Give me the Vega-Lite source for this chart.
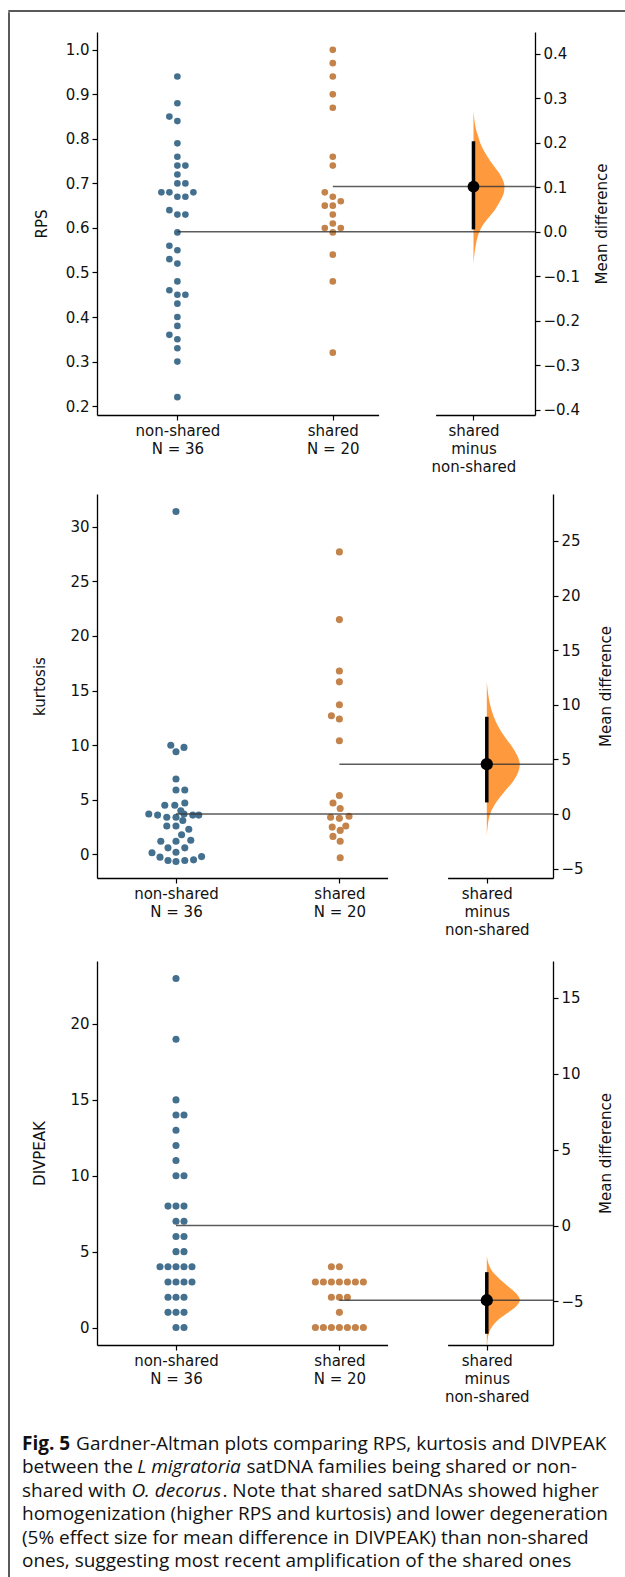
{
  "$schema": "https://vega.github.io/schema/vega-lite/v6.json",
  "padding": {"left": 8, "top": 10, "right": 0, "bottom": 0},
  "background": "white",
  "config": {
    "view": {"stroke": null},
    "font": "DejaVu Sans",
    "axis": {
      "labelFont": "DejaVu Sans", "labelFontSize": 15, "labelColor": "#111",
      "titleFont": "DejaVu Sans", "titleFontSize": 15, "titleFontWeight": "normal", "titleColor": "#111",
      "domainColor": "#000", "domainWidth": 1.3, "tickColor": "#000", "tickWidth": 1.2, "tickSize": 5,
      "grid": false, "labelPadding": 3, "labelOverlap": false, "labelFlush": false
    }
  },
  "datasets": {
    "rps": [
      {"group": "non-shared", "value": 0.94, "slot": 0},
      {"group": "non-shared", "value": 0.88, "slot": 0},
      {"group": "non-shared", "value": 0.85, "slot": -1},
      {"group": "non-shared", "value": 0.84, "slot": 0},
      {"group": "non-shared", "value": 0.79, "slot": 0},
      {"group": "non-shared", "value": 0.76, "slot": 0},
      {"group": "non-shared", "value": 0.74, "slot": 0},
      {"group": "non-shared", "value": 0.74, "slot": 1},
      {"group": "non-shared", "value": 0.72, "slot": 0},
      {"group": "non-shared", "value": 0.70, "slot": 0},
      {"group": "non-shared", "value": 0.70, "slot": 1},
      {"group": "non-shared", "value": 0.68, "slot": -2},
      {"group": "non-shared", "value": 0.68, "slot": -1},
      {"group": "non-shared", "value": 0.68, "slot": 2},
      {"group": "non-shared", "value": 0.67, "slot": 0},
      {"group": "non-shared", "value": 0.67, "slot": 1},
      {"group": "non-shared", "value": 0.64, "slot": -1},
      {"group": "non-shared", "value": 0.63, "slot": 0},
      {"group": "non-shared", "value": 0.63, "slot": 1},
      {"group": "non-shared", "value": 0.59, "slot": 0},
      {"group": "non-shared", "value": 0.56, "slot": -1},
      {"group": "non-shared", "value": 0.55, "slot": 0},
      {"group": "non-shared", "value": 0.53, "slot": -1},
      {"group": "non-shared", "value": 0.52, "slot": 0},
      {"group": "non-shared", "value": 0.48, "slot": 0},
      {"group": "non-shared", "value": 0.46, "slot": -1},
      {"group": "non-shared", "value": 0.45, "slot": 0},
      {"group": "non-shared", "value": 0.45, "slot": 1},
      {"group": "non-shared", "value": 0.43, "slot": 0},
      {"group": "non-shared", "value": 0.40, "slot": 0},
      {"group": "non-shared", "value": 0.38, "slot": 0},
      {"group": "non-shared", "value": 0.36, "slot": -1},
      {"group": "non-shared", "value": 0.35, "slot": 0},
      {"group": "non-shared", "value": 0.33, "slot": 0},
      {"group": "non-shared", "value": 0.30, "slot": 0},
      {"group": "non-shared", "value": 0.22, "slot": 0},
      {"group": "shared", "value": 1.00, "slot": 0},
      {"group": "shared", "value": 0.97, "slot": 0},
      {"group": "shared", "value": 0.94, "slot": 0},
      {"group": "shared", "value": 0.90, "slot": 0},
      {"group": "shared", "value": 0.87, "slot": 0},
      {"group": "shared", "value": 0.76, "slot": 0},
      {"group": "shared", "value": 0.74, "slot": 0},
      {"group": "shared", "value": 0.68, "slot": -1},
      {"group": "shared", "value": 0.67, "slot": 0},
      {"group": "shared", "value": 0.66, "slot": 1},
      {"group": "shared", "value": 0.65, "slot": -1},
      {"group": "shared", "value": 0.65, "slot": 0},
      {"group": "shared", "value": 0.63, "slot": 0},
      {"group": "shared", "value": 0.61, "slot": 0},
      {"group": "shared", "value": 0.60, "slot": -1},
      {"group": "shared", "value": 0.60, "slot": 1},
      {"group": "shared", "value": 0.59, "slot": 0},
      {"group": "shared", "value": 0.54, "slot": 0},
      {"group": "shared", "value": 0.48, "slot": 0},
      {"group": "shared", "value": 0.32, "slot": 0}
    ],
    "rps_means": [{"group": "non-shared", "mean": 0.5917}, {"group": "shared", "mean": 0.693}],
    "rps_diff": [{"group": "diff", "mean": 0.101, "lo": 0.005, "hi": 0.203}],
    "rps_violin": [
      {"v": 0.272, "d": 0}, {"v": 0.25, "d": 0.03}, {"v": 0.23, "d": 0.08}, {"v": 0.21, "d": 0.17},
      {"v": 0.197, "d": 0.23}, {"v": 0.18, "d": 0.35}, {"v": 0.16, "d": 0.53}, {"v": 0.152, "d": 0.61},
      {"v": 0.13, "d": 0.84}, {"v": 0.11, "d": 0.98}, {"v": 0.10, "d": 1.0}, {"v": 0.085, "d": 0.97},
      {"v": 0.07, "d": 0.87}, {"v": 0.047, "d": 0.67}, {"v": 0.03, "d": 0.47}, {"v": 0.011, "d": 0.27},
      {"v": -0.01, "d": 0.14}, {"v": -0.028, "d": 0.08}, {"v": -0.05, "d": 0.03}, {"v": -0.073, "d": 0}
    ],
    "kurt": [
      {"group": "non-shared", "value": 31.4, "slot": 0},
      {"group": "non-shared", "value": 10.0, "slot": -0.65},
      {"group": "non-shared", "value": 9.8, "slot": 1},
      {"group": "non-shared", "value": 9.4, "slot": 0},
      {"group": "non-shared", "value": 6.9, "slot": 0},
      {"group": "non-shared", "value": 5.9, "slot": 0},
      {"group": "non-shared", "value": 5.9, "slot": 1.1},
      {"group": "non-shared", "value": 4.7, "slot": 1.1},
      {"group": "non-shared", "value": 4.5, "slot": -1.4},
      {"group": "non-shared", "value": 4.5, "slot": -0.15},
      {"group": "non-shared", "value": 4.0, "slot": 0.6},
      {"group": "non-shared", "value": 3.7, "slot": -3.4},
      {"group": "non-shared", "value": 3.6, "slot": -2.3},
      {"group": "non-shared", "value": 3.4, "slot": -1.15},
      {"group": "non-shared", "value": 3.4, "slot": 0},
      {"group": "non-shared", "value": 3.7, "slot": 1},
      {"group": "non-shared", "value": 3.6, "slot": 2.1},
      {"group": "non-shared", "value": 3.6, "slot": 2.85},
      {"group": "non-shared", "value": 3.1, "slot": 0.85},
      {"group": "non-shared", "value": 2.6, "slot": -1.15},
      {"group": "non-shared", "value": 2.6, "slot": 0},
      {"group": "non-shared", "value": 2.3, "slot": 1.6},
      {"group": "non-shared", "value": 1.8, "slot": 0.7},
      {"group": "non-shared", "value": 1.2, "slot": -1.9},
      {"group": "non-shared", "value": 1.2, "slot": 0},
      {"group": "non-shared", "value": 1.3, "slot": 1.85},
      {"group": "non-shared", "value": 0.6, "slot": -1},
      {"group": "non-shared", "value": 0.6, "slot": 1.1},
      {"group": "non-shared", "value": 0.15, "slot": -3},
      {"group": "non-shared", "value": 0.2, "slot": 0},
      {"group": "non-shared", "value": -0.25, "slot": -2},
      {"group": "non-shared", "value": -0.55, "slot": -1},
      {"group": "non-shared", "value": -0.65, "slot": 0},
      {"group": "non-shared", "value": -0.55, "slot": 1.1},
      {"group": "non-shared", "value": -0.5, "slot": 2.2},
      {"group": "non-shared", "value": -0.2, "slot": 3.2},
      {"group": "shared", "value": 27.7, "slot": 0},
      {"group": "shared", "value": 21.5, "slot": 0},
      {"group": "shared", "value": 16.8, "slot": 0},
      {"group": "shared", "value": 15.8, "slot": 0},
      {"group": "shared", "value": 13.7, "slot": 0},
      {"group": "shared", "value": 12.7, "slot": -1},
      {"group": "shared", "value": 12.4, "slot": 0},
      {"group": "shared", "value": 10.4, "slot": 0},
      {"group": "shared", "value": 5.4, "slot": 0},
      {"group": "shared", "value": 4.7, "slot": -0.8},
      {"group": "shared", "value": 4.2, "slot": 0.1},
      {"group": "shared", "value": 3.4, "slot": -1.1},
      {"group": "shared", "value": 3.3, "slot": 0},
      {"group": "shared", "value": 3.5, "slot": 1.2},
      {"group": "shared", "value": 2.5, "slot": -0.9},
      {"group": "shared", "value": 2.6, "slot": 0.8},
      {"group": "shared", "value": 2.2, "slot": 0.1},
      {"group": "shared", "value": 1.65, "slot": -0.8},
      {"group": "shared", "value": 1.2, "slot": 0.1},
      {"group": "shared", "value": -0.3, "slot": 0.1}
    ],
    "kurt_means": [{"group": "non-shared", "mean": 3.7}, {"group": "shared", "mean": 8.26}],
    "kurt_diff": [{"group": "diff", "mean": 4.56, "lo": 1.06, "hi": 8.9}],
    "kurt_violin": [
      {"v": 12.1, "d": 0}, {"v": 11, "d": 0.04}, {"v": 10, "d": 0.1}, {"v": 9, "d": 0.2},
      {"v": 8, "d": 0.35}, {"v": 7, "d": 0.56}, {"v": 6, "d": 0.8}, {"v": 5, "d": 0.97},
      {"v": 4.55, "d": 1.0}, {"v": 4, "d": 0.97}, {"v": 3, "d": 0.8}, {"v": 2, "d": 0.52},
      {"v": 1, "d": 0.27}, {"v": 0, "d": 0.1}, {"v": -1, "d": 0.03}, {"v": -2, "d": 0}
    ],
    "div": [
      {"group": "non-shared", "value": 23, "slot": 0},
      {"group": "non-shared", "value": 19, "slot": 0},
      {"group": "non-shared", "value": 15, "slot": 0},
      {"group": "non-shared", "value": 14, "slot": 0},
      {"group": "non-shared", "value": 14, "slot": 1},
      {"group": "non-shared", "value": 13, "slot": 0},
      {"group": "non-shared", "value": 12, "slot": 0},
      {"group": "non-shared", "value": 11, "slot": 0},
      {"group": "non-shared", "value": 10, "slot": 0},
      {"group": "non-shared", "value": 10, "slot": 1},
      {"group": "non-shared", "value": 8, "slot": -1},
      {"group": "non-shared", "value": 8, "slot": 0},
      {"group": "non-shared", "value": 8, "slot": 1},
      {"group": "non-shared", "value": 7, "slot": 0},
      {"group": "non-shared", "value": 7, "slot": 1},
      {"group": "non-shared", "value": 6, "slot": 0},
      {"group": "non-shared", "value": 6, "slot": 1},
      {"group": "non-shared", "value": 5, "slot": 0},
      {"group": "non-shared", "value": 5, "slot": 1},
      {"group": "non-shared", "value": 4, "slot": -2},
      {"group": "non-shared", "value": 4, "slot": -1},
      {"group": "non-shared", "value": 4, "slot": 0},
      {"group": "non-shared", "value": 4, "slot": 1},
      {"group": "non-shared", "value": 4, "slot": 2},
      {"group": "non-shared", "value": 3, "slot": -1},
      {"group": "non-shared", "value": 3, "slot": 0},
      {"group": "non-shared", "value": 3, "slot": 1},
      {"group": "non-shared", "value": 3, "slot": 2},
      {"group": "non-shared", "value": 2, "slot": -1},
      {"group": "non-shared", "value": 2, "slot": 0},
      {"group": "non-shared", "value": 2, "slot": 1},
      {"group": "non-shared", "value": 1, "slot": -1},
      {"group": "non-shared", "value": 1, "slot": 0},
      {"group": "non-shared", "value": 1, "slot": 1},
      {"group": "non-shared", "value": 0, "slot": 0},
      {"group": "non-shared", "value": 0, "slot": 1},
      {"group": "shared", "value": 4, "slot": -1},
      {"group": "shared", "value": 4, "slot": 0},
      {"group": "shared", "value": 3, "slot": -3},
      {"group": "shared", "value": 3, "slot": -2},
      {"group": "shared", "value": 3, "slot": -1},
      {"group": "shared", "value": 3, "slot": 0},
      {"group": "shared", "value": 3, "slot": 1},
      {"group": "shared", "value": 3, "slot": 2},
      {"group": "shared", "value": 3, "slot": 3},
      {"group": "shared", "value": 2, "slot": -1},
      {"group": "shared", "value": 2, "slot": 0},
      {"group": "shared", "value": 2, "slot": 1},
      {"group": "shared", "value": 1, "slot": 0},
      {"group": "shared", "value": 0, "slot": -3},
      {"group": "shared", "value": 0, "slot": -2},
      {"group": "shared", "value": 0, "slot": -1},
      {"group": "shared", "value": 0, "slot": 0},
      {"group": "shared", "value": 0, "slot": 1},
      {"group": "shared", "value": 0, "slot": 2},
      {"group": "shared", "value": 0, "slot": 3}
    ],
    "div_means": [{"group": "non-shared", "mean": 6.72}, {"group": "shared", "mean": 1.8}],
    "div_diff": [{"group": "diff", "mean": -4.92, "lo": -7.13, "hi": -3.07}],
    "div_violin": [
      {"v": -2.0, "d": 0}, {"v": -2.5, "d": 0.05}, {"v": -3.0, "d": 0.16}, {"v": -3.5, "d": 0.38},
      {"v": -4.0, "d": 0.64}, {"v": -4.5, "d": 0.9}, {"v": -4.9, "d": 1.0}, {"v": -5.3, "d": 0.9},
      {"v": -5.8, "d": 0.6}, {"v": -6.3, "d": 0.3}, {"v": -6.8, "d": 0.12}, {"v": -7.3, "d": 0.04},
      {"v": -7.9, "d": 0.01}
    ],
    "caption": [
      {"line": 1, "run": "b1", "text": "Fig. 5"},
      {"line": 1, "run": "r1", "text": "Gardner-Altman plots comparing RPS, kurtosis and DIVPEAK"},
      {"line": 2, "run": "p0", "text": "between the"},
      {"line": 2, "run": "i2", "text": "L migratoria"},
      {"line": 2, "run": "r2", "text": "satDNA families being shared or non-"},
      {"line": 3, "run": "p0", "text": "shared with"},
      {"line": 3, "run": "i3", "text": "O. decorus"},
      {"line": 3, "run": "r3", "text": ". Note that shared satDNAs showed higher"},
      {"line": 4, "run": "p0", "text": "homogenization (higher RPS and kurtosis) and lower degeneration"},
      {"line": 5, "run": "p0", "text": "(5% effect size for mean difference in DIVPEAK) than non-shared"},
      {"line": 6, "run": "p0", "text": "ones, suggesting most recent amplification of the shared ones"}
    ],
    "empty": []
  },
  "spacing": 0,
  "vconcat": [
    {"data": {"name": "empty"}, "mark": "point", "width": 617, "height": 0.001, "view": {"stroke": "#222", "strokeWidth": 1.5}},
    {
      "spacing": 12,
      "hconcat": [
        {"data": {"name": "empty"}, "mark": "point", "width": 0.001, "height": 1567, "view": {"stroke": "#222", "strokeWidth": 1.5}},
        {
          "spacing": 0,
          "bounds": "flush",
          "vconcat": [
            {"data": {"name": "empty"}, "mark": "point", "width": 1, "height": 18.3},
            {
              "width": 438, "height": 383,
              "layer": [
                {
                  "data": {"name": "rps_violin"},
                  "mark": {"type": "area", "orient": "horizontal", "color": "#FF993E", "interpolate": "monotone", "clip": true},
                  "encoding": {
                    "y": {"field": "v", "type": "quantitative", "scale": {"domain": [-0.4117, 0.4483], "nice": false, "zero": false}, "axis": null},
                    "x": {"field": "d", "type": "quantitative", "scale": {"domain": [-12.145, 1.984], "nice": false, "zero": false}, "axis": null},
                    "x2": {"datum": 0}
                  }
                },
                {
                  "layer": [
                    {
                      "data": {"name": "rps"},
                      "mark": {"type": "point", "filled": true, "size": 44, "opacity": 1},
                      "encoding": {
                        "x": {"field": "group", "type": "nominal",
                          "scale": {"type": "point", "domain": ["non-shared", "shared"], "range": [0, 281.6], "padding": 0.406, "align": 0.637},
                          "axis": {"orient": "bottom", "title": null, "labelAngle": 0, "labelBaseline": "top", "labelLineHeight": 18, "labelPadding": 3,
                            "labelExpr": "datum.value == 'non-shared' ? ['non-shared', 'N = 36'] : ['shared', 'N = 20']"}},
                        "xOffset": {"field": "slot", "type": "quantitative", "scale": {"domain": [-4, 4], "range": [-32, 32]}},
                        "y": {"field": "value", "type": "quantitative", "scale": {"domain": [0.18, 1.04], "nice": false, "zero": false},
                          "axis": {"orient": "left", "title": "RPS", "values": [0.2, 0.3, 0.4, 0.5, 0.6, 0.7, 0.8, 0.9, 1.0], "format": ".1f", "titlePadding": 16}},
                        "color": {"field": "group", "type": "nominal", "scale": {"domain": ["non-shared", "shared"], "range": ["#44708F", "#C3834A"]}, "legend": null}
                      }
                    },
                    {
                      "data": {"name": "rps_means"},
                      "mark": {"type": "rule", "color": "#333", "opacity": 0.8, "strokeWidth": 1.5},
                      "encoding": {
                        "x": {"field": "group", "type": "nominal"},
                        "x2": {"value": "width"},
                        "y": {"field": "mean", "type": "quantitative"}
                      }
                    }
                  ]
                },
                {
                  "data": {"name": "rps_diff"},
                  "layer": [
                    {
                      "mark": {"type": "rule", "color": "#000", "strokeWidth": 3.5},
                      "encoding": {
                        "x": {"field": "group", "type": "nominal",
                          "scale": {"type": "point", "domain": ["diff"], "range": [338.6, 438], "padding": 0.5, "align": 0.381},
                          "axis": {"orient": "bottom", "title": null, "labelAngle": 0, "labelBaseline": "top", "labelLineHeight": 18, "labelPadding": 3,
                            "labelExpr": "['shared', 'minus', 'non-shared']"}},
                        "y": {"field": "lo", "type": "quantitative", "scale": {"domain": [-0.4117, 0.4483], "nice": false, "zero": false},
                          "axis": {"orient": "right", "title": "Mean difference", "values": [-0.4, -0.3, -0.2, -0.1, 0, 0.1, 0.2, 0.3, 0.4], "format": ".1f", "titleAngle": 270, "titleBaseline": "top", "titlePadding": 15}},
                        "y2": {"field": "hi"}
                      }
                    },
                    {
                      "mark": {"type": "point", "filled": true, "size": 140, "color": "#000", "opacity": 1},
                      "encoding": {
                        "x": {"field": "group", "type": "nominal"},
                        "y": {"field": "mean", "type": "quantitative"}
                      }
                    }
                  ]
                }
              ],
              "resolve": {"scale": {"x": "independent", "y": "independent"}, "axis": {"x": "independent", "y": "independent"}}
            },
            {"data": {"name": "empty"}, "mark": "point", "width": 1, "height": 78.7},
            {
              "width": 456, "height": 384,
              "layer": [
                {
                  "data": {"name": "kurt_violin"},
                  "mark": {"type": "area", "orient": "horizontal", "color": "#FF993E", "interpolate": "monotone", "clip": true},
                  "encoding": {
                    "y": {"field": "v", "type": "quantitative", "scale": {"domain": [-5.86, 29.3], "nice": false, "zero": false}, "axis": null},
                    "x": {"field": "d", "type": "quantitative", "scale": {"domain": [-11.812, 2.006], "nice": false, "zero": false}, "axis": null},
                    "x2": {"datum": 0}
                  }
                },
                {
                  "layer": [
                    {
                      "data": {"name": "kurt"},
                      "mark": {"type": "point", "filled": true, "size": 50, "opacity": 1},
                      "encoding": {
                        "x": {"field": "group", "type": "nominal",
                          "scale": {"type": "point", "domain": ["non-shared", "shared"], "range": [0, 290.6], "padding": 0.3892, "align": 0.621},
                          "axis": {"orient": "bottom", "title": null, "labelAngle": 0, "labelBaseline": "top", "labelLineHeight": 18, "labelPadding": 3,
                            "labelExpr": "datum.value == 'non-shared' ? ['non-shared', 'N = 36'] : ['shared', 'N = 20']"}},
                        "xOffset": {"field": "slot", "type": "quantitative", "scale": {"domain": [-4, 4], "range": [-33.2, 33.2]}},
                        "y": {"field": "value", "type": "quantitative", "scale": {"domain": [-2.16, 33.0], "nice": false, "zero": false},
                          "axis": {"orient": "left", "title": "kurtosis", "values": [0, 5, 10, 15, 20, 25, 30], "format": "d", "titlePadding": 22}},
                        "color": {"field": "group", "type": "nominal", "scale": {"domain": ["non-shared", "shared"], "range": ["#44708F", "#C3834A"]}, "legend": null}
                      }
                    },
                    {
                      "data": {"name": "kurt_means"},
                      "mark": {"type": "rule", "color": "#333", "opacity": 0.8, "strokeWidth": 1.5},
                      "encoding": {
                        "x": {"field": "group", "type": "nominal"},
                        "x2": {"value": "width"},
                        "y": {"field": "mean", "type": "quantitative"}
                      }
                    }
                  ]
                },
                {
                  "data": {"name": "kurt_diff"},
                  "layer": [
                    {
                      "mark": {"type": "rule", "color": "#000", "strokeWidth": 3.5},
                      "encoding": {
                        "x": {"field": "group", "type": "nominal",
                          "scale": {"type": "point", "domain": ["diff"], "range": [350.6, 456], "padding": 0.5, "align": 0.3719},
                          "axis": {"orient": "bottom", "title": null, "labelAngle": 0, "labelBaseline": "top", "labelLineHeight": 18, "labelPadding": 3,
                            "labelExpr": "['shared', 'minus', 'non-shared']"}},
                        "y": {"field": "lo", "type": "quantitative", "scale": {"domain": [-5.86, 29.3], "nice": false, "zero": false},
                          "axis": {"orient": "right", "title": "Mean difference", "values": [-5, 0, 5, 10, 15, 20, 25], "format": "d", "titleAngle": 270, "titleBaseline": "top", "titlePadding": 15}},
                        "y2": {"field": "hi"}
                      }
                    },
                    {
                      "mark": {"type": "point", "filled": true, "size": 150, "color": "#000", "opacity": 1},
                      "encoding": {
                        "x": {"field": "group", "type": "nominal"},
                        "y": {"field": "mean", "type": "quantitative"}
                      }
                    }
                  ]
                }
              ],
              "resolve": {"scale": {"x": "independent", "y": "independent"}, "axis": {"x": "independent", "y": "independent"}}
            },
            {"data": {"name": "empty"}, "mark": "point", "width": 1, "height": 82.7},
            {
              "width": 456, "height": 384,
              "layer": [
                {
                  "data": {"name": "div_violin"},
                  "mark": {"type": "area", "orient": "horizontal", "color": "#FF993E", "interpolate": "monotone", "clip": true},
                  "encoding": {
                    "y": {"field": "v", "type": "quantitative", "scale": {"domain": [-7.87, 17.43], "nice": false, "zero": false}, "axis": null},
                    "x": {"field": "d", "type": "quantitative", "scale": {"domain": [-11.812, 2.006], "nice": false, "zero": false}, "axis": null},
                    "x2": {"datum": 0}
                  }
                },
                {
                  "layer": [
                    {
                      "data": {"name": "div"},
                      "mark": {"type": "point", "filled": true, "size": 50, "opacity": 1},
                      "encoding": {
                        "x": {"field": "group", "type": "nominal",
                          "scale": {"type": "point", "domain": ["non-shared", "shared"], "range": [0, 290.6], "padding": 0.3892, "align": 0.621},
                          "axis": {"orient": "bottom", "title": null, "labelAngle": 0, "labelBaseline": "top", "labelLineHeight": 18, "labelPadding": 3,
                            "labelExpr": "datum.value == 'non-shared' ? ['non-shared', 'N = 36'] : ['shared', 'N = 20']"}},
                        "xOffset": {"field": "slot", "type": "quantitative", "scale": {"domain": [-4, 4], "range": [-36.8, 36.8]}},
                        "y": {"field": "value", "type": "quantitative", "scale": {"domain": [-1.15, 24.15], "nice": false, "zero": false},
                          "axis": {"orient": "left", "title": "DIVPEAK", "values": [0, 5, 10, 15, 20], "format": "d", "titlePadding": 22}},
                        "color": {"field": "group", "type": "nominal", "scale": {"domain": ["non-shared", "shared"], "range": ["#44708F", "#C3834A"]}, "legend": null}
                      }
                    },
                    {
                      "data": {"name": "div_means"},
                      "mark": {"type": "rule", "color": "#333", "opacity": 0.8, "strokeWidth": 1.5},
                      "encoding": {
                        "x": {"field": "group", "type": "nominal"},
                        "x2": {"value": "width"},
                        "y": {"field": "mean", "type": "quantitative"}
                      }
                    }
                  ]
                },
                {
                  "data": {"name": "div_diff"},
                  "layer": [
                    {
                      "mark": {"type": "rule", "color": "#000", "strokeWidth": 3.5},
                      "encoding": {
                        "x": {"field": "group", "type": "nominal",
                          "scale": {"type": "point", "domain": ["diff"], "range": [350.6, 456], "padding": 0.5, "align": 0.3719},
                          "axis": {"orient": "bottom", "title": null, "labelAngle": 0, "labelBaseline": "top", "labelLineHeight": 18, "labelPadding": 3,
                            "labelExpr": "['shared', 'minus', 'non-shared']"}},
                        "y": {"field": "lo", "type": "quantitative", "scale": {"domain": [-7.87, 17.43], "nice": false, "zero": false},
                          "axis": {"orient": "right", "title": "Mean difference", "values": [-5, 0, 5, 10, 15], "format": "d", "titleAngle": 270, "titleBaseline": "top", "titlePadding": 15}},
                        "y2": {"field": "hi"}
                      }
                    },
                    {
                      "mark": {"type": "point", "filled": true, "size": 150, "color": "#000", "opacity": 1},
                      "encoding": {
                        "x": {"field": "group", "type": "nominal"},
                        "y": {"field": "mean", "type": "quantitative"}
                      }
                    }
                  ]
                }
              ],
              "resolve": {"scale": {"x": "independent", "y": "independent"}, "axis": {"x": "independent", "y": "independent"}}
            },
            {"data": {"name": "empty"}, "mark": "point", "width": 1, "height": 87},
            {
              "width": 450, "height": 141,
              "data": {"name": "caption"},
              "encoding": {
                "x": {"datum": 0, "type": "quantitative", "scale": {"domain": [0, 1]}, "axis": null},
                "y": {"field": "line", "type": "ordinal", "scale": {"type": "point", "padding": 0.5}, "axis": null},
                "text": {"field": "text"}
              },
              "layer": [
                {"transform": [{"filter": "datum.run == 'b1'"}], "mark": {"type": "text", "align": "left", "baseline": "middle", "font": "Open Sans", "fontSize": 19, "fontWeight": "bold", "color": "#111", "dx": -75}},
                {"transform": [{"filter": "datum.run == 'r1'"}], "mark": {"type": "text", "align": "left", "baseline": "middle", "font": "Open Sans", "fontSize": 19, "color": "#111", "dx": -20.9}},
                {"transform": [{"filter": "datum.run == 'p0'"}], "mark": {"type": "text", "align": "left", "baseline": "middle", "font": "Open Sans", "fontSize": 19, "color": "#111", "dx": -75}},
                {"transform": [{"filter": "datum.run == 'i2'"}], "mark": {"type": "text", "align": "left", "baseline": "middle", "font": "Open Sans", "fontSize": 19, "fontStyle": "italic", "color": "#111", "dx": 40.2}},
                {"transform": [{"filter": "datum.run == 'r2'"}], "mark": {"type": "text", "align": "left", "baseline": "middle", "font": "Open Sans", "fontSize": 19, "color": "#111", "dx": 149.5}},
                {"transform": [{"filter": "datum.run == 'i3'"}], "mark": {"type": "text", "align": "left", "baseline": "middle", "font": "Open Sans", "fontSize": 19, "fontStyle": "italic", "color": "#111", "dx": 34.4}},
                {"transform": [{"filter": "datum.run == 'r3'"}], "mark": {"type": "text", "align": "left", "baseline": "middle", "font": "Open Sans", "fontSize": 19, "color": "#111", "dx": 125.4}}
              ]
            }
          ]
        }
      ]
    }
  ]
}
